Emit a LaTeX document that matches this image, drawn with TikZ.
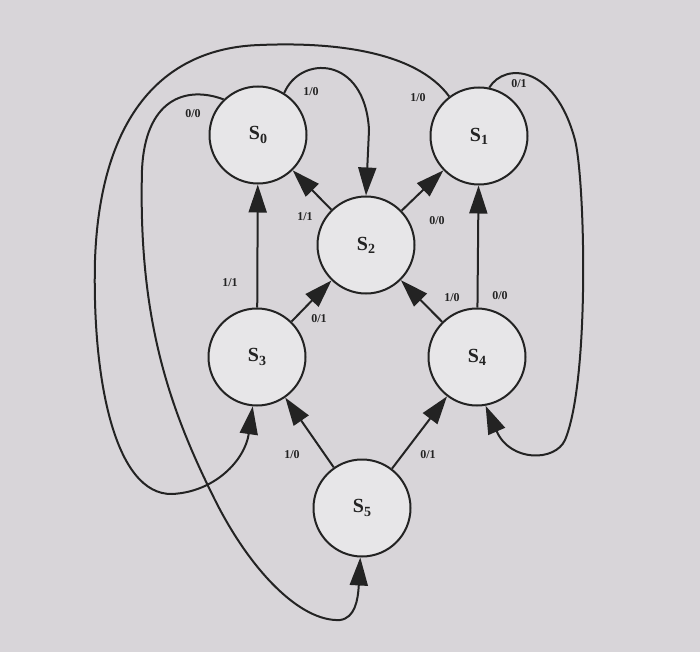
\documentclass[tikz,border=0pt]{standalone}
\usepackage{fontspec}
\setmainfont{Liberation Serif}
\usetikzlibrary{arrows.meta}
\definecolor{bg}{RGB}{216,213,217}
\definecolor{nodefill}{RGB}{231,230,232}
\definecolor{ink}{RGB}{35,35,35}
\newcommand{\stname}[1]{S\raisebox{-0.35ex}{\fontsize{14}{14}\selectfont #1}}
\begin{document}
\begin{tikzpicture}[x=1pt,y=-1pt,line width=2pt,
  state/.style={circle,draw=ink,fill=nodefill,minimum size=97pt,inner sep=0pt,
    font=\bfseries\fontsize{20}{20}\selectfont,text=ink},
  lbl/.style={font=\bfseries\fontsize{12}{12}\selectfont,inner sep=1pt,text=ink},
  arr/.style={draw=ink,-{Triangle[length=28pt,width=18pt]}}]
\fill[bg] (0,0) rectangle (700,652);
\useasboundingbox (0,0) rectangle (700,652);

\node[state] (s0) at (258,135) {\stname{0}};
\node[state] (s1) at (479,136) {\stname{1}};
\node[state] (s2) at (366,245) {\stname{2}};
\node[state] (s3) at (257,357) {\stname{3}};
\node[state] (s4) at (477,357) {\stname{4}};
\node[state] (s5) at (362,508) {\stname{5}};

% straight transitions
\draw[arr] (s3) -- (s0);
\draw[arr] (s4) -- (s1);
\draw[arr] (s2) -- (s0);
\draw[arr] (s2) -- (s1);
\draw[arr] (s3) -- (s2);
\draw[arr] (s4) -- (s2);
\draw[arr] (s5) -- (s3);
\draw[arr] (s5) -- (s4);

% curved transitions
\draw[arr] (s0.58) .. controls (300,55) and (365,55) .. (369,130) -- (s2.north);
\draw[arr] (s1.78) .. controls (505,62) and (555,65) .. (575,140)
  .. controls (585,180) and (590,380) .. (565,440)
  .. controls (555,462) and (510,462) .. (s4.-80);
\draw[arr] (s1.127) .. controls (415,50) and (330,42) .. (260,45)
  .. controls (160,48) and (100,120) .. (95,260)
  .. controls (92,380) and (115,495) .. (172,494)
  .. controls (215,492) and (245,460) .. (s3.-95);
\draw[arr] (s0.134) .. controls (185,85) and (145,100) .. (142,170)
  .. controls (138,320) and (170,410) .. (215,500)
  .. controls (250,570) and (300,622) .. (340,620)
  .. controls (355,618) and (358,600) .. (s5.-92);

% labels
\node[lbl] (l00a) at (193,114) {0/0};
\node[lbl] (l10a) at (311,92) {1/0};
\node[lbl] (l10b) at (418,98) {1/0};
\node[lbl] (l01a) at (519,84) {0/1};
\node[lbl] (l11a) at (305,217) {1/1};
\node[lbl] (l00b) at (437,221) {0/0};
\node[lbl] (l11b) at (230,283) {1/1};
\node[lbl] (l01b) at (319,319) {0/1};
\node[lbl] (l10c) at (452,298) {1/0};
\node[lbl] (l00c) at (500,296) {0/0};
\node[lbl] (l10d) at (292,455) {1/0};
\node[lbl] (l01c) at (428,455) {0/1};
\end{tikzpicture}
\end{document}
